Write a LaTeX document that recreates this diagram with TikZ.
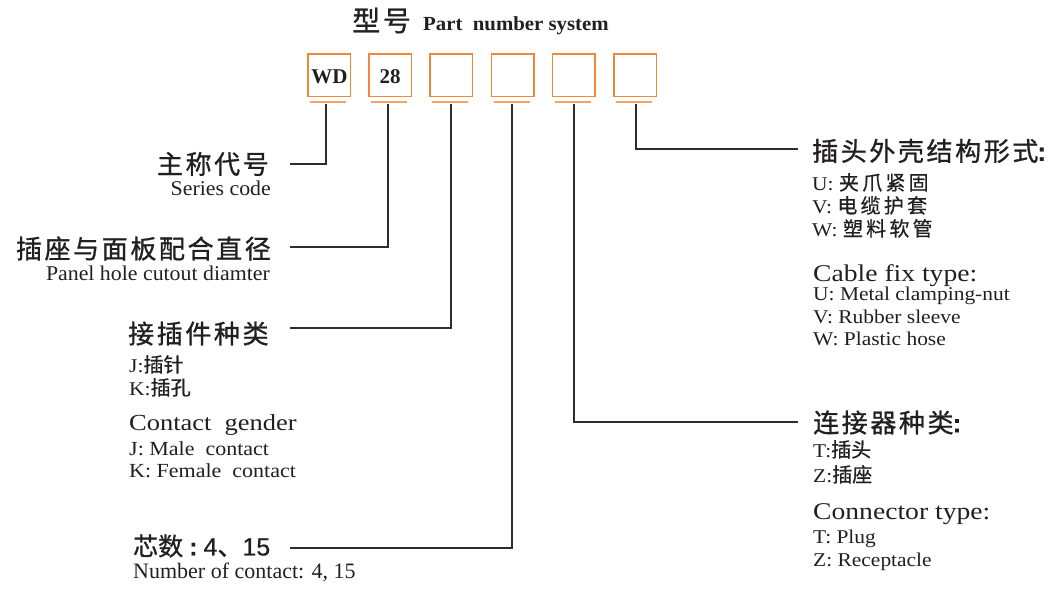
\documentclass[tikz,border=0pt]{standalone}
\usepackage{fontspec}
\setmainfont{Liberation Serif}
\newfontfamily\cjk{Noto Sans CJK SC}
\newfontfamily\cjkm[FakeBold=0.6]{Noto Sans CJK SC}
\newfontfamily\cjkh[LetterSpace=10,FakeBold=1]{Noto Sans CJK SC}
\newfontfamily\cjks[LetterSpace=16,FakeBold=0.6]{Noto Sans CJK SC}
\newfontfamily\cjkb[FakeBold=1]{Noto Sans CJK SC}
\newfontfamily\lsans[FakeBold=0.6]{Liberation Sans}
\newfontfamily\latw[FakeStretch=1.1]{Liberation Serif}
\newfontfamily\latb[FakeStretch=1.15]{Liberation Serif}
\newfontfamily\latt[FakeStretch=1.04]{Liberation Serif}
\definecolor{boxorange}{RGB}{241,135,58}
\definecolor{ulorange}{RGB}{246,165,105}
\definecolor{txtgray}{RGB}{35,31,32}
\definecolor{linegray}{RGB}{45,45,45}
\newcommand{\zh}[1]{{\fontsize{20}{22}\selectfont\cjkm #1}}
\newcommand{\zhs}[1]{{\fontsize{20}{22}\selectfont\cjks #1}}
\tikzset{
  box/.style={draw=boxorange, line width=1.5pt, minimum width=42.5pt, minimum height=42.5pt, inner sep=0pt, text=txtgray},
  uline/.style={draw=ulorange, line width=2.5pt},
  conn/.style={draw=linegray, line width=1.1pt},
  txt/.style={inner sep=0pt, text=txtgray},
  hd/.style={txt, font=\fontsize{26}{28}\selectfont\cjkh},
  sm/.style={txt, font=\fontsize{19.5}{22}\selectfont\latw},
  mid/.style={txt, font=\fontsize{21}{24}\selectfont\latt},
  big/.style={txt, font=\fontsize{24}{28}\selectfont\latb},
}
\begin{document}
\begin{tikzpicture}[x=1pt,y=-1pt]
\useasboundingbox (0,0) rectangle (1056,589);
% title
\node[txt, anchor=west, font=\fontsize{28}{30}\selectfont\cjkh] (t1) at (352,20.5) {型号};
\node[txt, anchor=base west, font=\fontsize{20}{24}\selectfont\bfseries\latt] (t2) at (423,30) {Part\ \ number system};
% boxes
\foreach \i/\x/\v in {1/329/326,2/390.2/388,3/451.4/451,4/512.6/512,5/573.8/574,6/635/636}{
  \node[box] (b\i) at (\x,75) {};
  \draw[uline] (\x-19,102) -- (\x+17,102);
  \coordinate (v\i) at (\v,103.5);
}
\node[txt, anchor=base, font=\fontsize{21}{24}\selectfont\bfseries] (w1) at (329.5,83) {WD};
\node[txt, anchor=base, font=\fontsize{21}{24}\selectfont\bfseries] (w2) at (390.2,83) {28};
% left labels
\node[hd, anchor=east] (h1) at (269,164) {主称代号};
\node[mid, anchor=base east] (s1) at (271,195) {Series code};
\node[hd, anchor=east] (h2) at (271,248.5) {插座与面板配合直径};
\node[mid, anchor=base east] (s2) at (270,280) {Panel hole cutout diamter};
\node[hd, anchor=west] (h3) at (128,333.5) {接插件种类};
\node[sm, anchor=base west] (j1) at (129,372) {J:\zh{插针}};
\node[sm, anchor=base west] (j2) at (129,395) {K:\zh{插孔}};
\node[txt, anchor=base west, font=\fontsize{23}{27}\selectfont\latb] (c3) at (129,430) {Contact\ \ gender};
\node[txt, anchor=base west, font=\fontsize{20}{23}\selectfont\latw] (j3) at (129,455) {J: Male\ \ contact};
\node[txt, anchor=base west, font=\fontsize{20}{23}\selectfont\latw] (j4) at (129,477) {K: Female\ \ contact};
\node[txt, anchor=west, font=\fontsize{25}{28}\selectfont\cjkb] (h4) at (133,546) {芯数\hspace{6pt}{\lsans\bfseries :}\hspace{6pt}{\lsans 4}、{\lsans 15}};
\node[txt, anchor=base west, font=\fontsize{22}{26}\selectfont] (s4) at (133,578) {Number of contact: 4, 15};
% right labels
\node[hd, anchor=west] (h6) at (812,151) {插头外壳结构形式\hspace{-1pt}{\lsans\bfseries :}};
\node[sm, anchor=base west] (r1) at (812,190) {U: \zhs{夹爪紧固}};
\node[sm, anchor=base west] (r2) at (812,213) {V: \zhs{电缆护套}};
\node[sm, anchor=base west] (r3) at (812,236) {W: \zhs{塑料软管}};
\node[big, anchor=base west] (c6) at (813,281) {Cable fix type:};
\node[sm, anchor=base west] (r4) at (813,300) {U: Metal clamping-nut};
\node[sm, anchor=base west] (r5) at (813,323) {V: Rubber sleeve};
\node[sm, anchor=base west] (r6) at (813,345) {W: Plastic hose};
\node[hd, anchor=west] (h5) at (813,422.5) {连接器种类\hspace{-1pt}{\lsans\bfseries :}};
\node[sm, anchor=base west] (r7) at (813,457) {T:\zh{插头}};
\node[sm, anchor=base west] (r8) at (813,482) {Z:\zh{插座}};
\node[big, anchor=base west] (c5) at (813,519) {Connector type:};
\node[sm, anchor=base west] (r9) at (813,543) {T: Plug};
\node[sm, anchor=base west] (r10) at (813,566) {Z: Receptacle};
% connector ends
\coordinate (e1) at (290,164);
\coordinate (e2) at (290,247);
\coordinate (e3) at (290,328);
\coordinate (e4) at (290,548);
\coordinate (e5) at (798,422);
\coordinate (e6) at (798,149);
\draw[conn] (v1) |- (e1);
\draw[conn] (v2) |- (e2);
\draw[conn] (v3) |- (e3);
\draw[conn] (v4) |- (e4);
\draw[conn] (v5) |- (e5);
\draw[conn] (v6) |- (e6);
\end{tikzpicture}
\end{document}
